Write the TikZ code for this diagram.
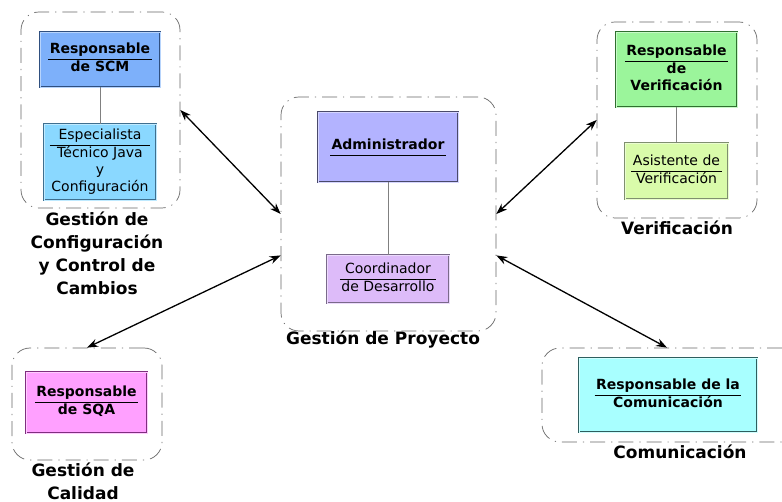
\documentclass[tikz,border=0pt]{standalone}
\usepackage{fontspec}
\setmainfont{DejaVu Sans}
\usetikzlibrary{arrows.meta}

\definecolor{scmfill}{HTML}{7DB0FA}\definecolor{scmline}{HTML}{2F4F7F}
\definecolor{espfill}{HTML}{8AD8FF}\definecolor{espline}{HTML}{3F6F8F}
\definecolor{admfill}{HTML}{B3B3FF}\definecolor{admline}{HTML}{4A4A6A}
\definecolor{coofill}{HTML}{DDBBF9}\definecolor{cooline}{HTML}{7A6A8A}
\definecolor{verfill}{HTML}{9BF59B}\definecolor{verline}{HTML}{2F6F2F}
\definecolor{asifill}{HTML}{D9FBAA}\definecolor{asiline}{HTML}{7F8F6F}
\definecolor{sqafill}{HTML}{FFA0FF}\definecolor{sqaline}{HTML}{7F2F7F}
\definecolor{comfill}{HTML}{A8FFFF}\definecolor{comline}{HTML}{2F5F5F}

% role title: first line, a rule, then the remaining lines
\newcommand\rolehead[2]{\begin{tabular}{@{\hspace{1.5pt}}c@{\hspace{1.5pt}}}#1\\\hline #2\end{tabular}}
\setlength{\arrayrulewidth}{0.8pt}

\begin{document}
\begin{tikzpicture}[x=1pt,y=-1pt,
  group/.style={draw=black!60, line width=0.7pt,
    dash pattern=on 15pt off 6pt on 1.2pt off 6pt,
    rounded corners=18pt, inner sep=0pt},
  role/.style 2 args={draw=#2, fill=#1, double=#1!55!white,
    double distance=0.9pt, line width=0.6pt, inner sep=0pt,
    font=\fontsize{14}{17}\selectfont},
  link/.style={draw=black!50, line width=0.9pt},
  both/.style={{Stealth[length=11pt,width=8pt]}-{Stealth[length=11pt,width=8pt]},
    line width=1.3pt},
  grouplabel/.style={font=\fontsize{17}{23}\selectfont\bfseries,
    align=center, inner sep=0pt}]
\useasboundingbox (0,0) rectangle (782,502);
\clip (0,0) rectangle (782,502);

% dashed group frames
\node[group, minimum width=159, minimum height=196] (g1) at (100.5,110) {};
\node[group, minimum width=215, minimum height=234] (g2) at (388.5,214) {};
\node[group, minimum width=160, minimum height=196] (g3) at (677,120) {};
\node[group, minimum width=150, minimum height=112] (g4) at (87,404) {};
\node[group, minimum width=258, minimum height=94]  (g5) at (671,395) {};

% configuration management
\node[role={scmfill}{scmline}, minimum width=120, minimum height=55] (scm) at (100,59.5)
  {\bfseries\rolehead{Responsable}{de SCM}};
\node[role={espfill}{espline}, minimum width=112, minimum height=76] (esp) at (100,162)
  {\rolehead{Especialista}{Técnico Java\\y\\Configuración}};
\draw[link] (scm) -- (esp);

% project management
\node[role={admfill}{admline}, minimum width=140, minimum height=70] (adm) at (388,147)
  {\bfseries\begin{tabular}{@{\hspace{1.5pt}}c@{\hspace{1.5pt}}}Administrador\\\hline\end{tabular}};
\node[role={coofill}{cooline}, minimum width=122, minimum height=48] (coo) at (388,279)
  {\rolehead{Coordinador}{de Desarrollo}};
\draw[link] (adm) -- (coo);

% verification
\node[role={verfill}{verline}, minimum width=121, minimum height=75] (ver) at (676.5,69.5)
  {\bfseries\rolehead{Responsable}{de\\Verificación}};
\node[role={asifill}{asiline}, minimum width=103, minimum height=56] (asi) at (676.5,171)
  {\rolehead{Asistente de}{Verificación}};
\draw[link] (ver) -- (asi);

% quality
\node[role={sqafill}{sqaline}, minimum width=121, minimum height=61] (sqa) at (86.5,402.5)
  {\bfseries\rolehead{Responsable}{de SQA}};

% communication
\node[role={comfill}{comline}, minimum width=178, minimum height=74] (com) at (668,395)
  {\bfseries\rolehead{Responsable de la}{Comunicación}};

% group captions
\node[grouplabel] (l1) at (97,253) {Gestión de\\Configuración\\y Control de\\Cambios};
\node[grouplabel] (l2) at (383,340) {Gestión de Proyecto};
\node[grouplabel] (l3) at (677,228) {Verificación};
\node[grouplabel] (l4) at (83,481) {Gestión de\\Calidad};
\node[grouplabel] (l5) at (680,452) {Comunicación};

% relations between groups
\draw[both] (g1.east) -- (g2.west);
\draw[both] (g4.north) -- (g2.201.8);
\draw[both] (g2.east) -- (g3.west);
\draw[both] (g2.-21.8) -- ([xshift=-4pt]g5.north);
\end{tikzpicture}
\end{document}
